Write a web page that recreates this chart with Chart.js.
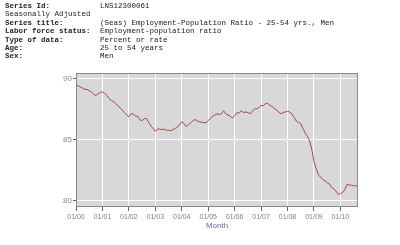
<!DOCTYPE html>
<html>
<head>
<meta charset="utf-8">
<script src="https://cdn.jsdelivr.net/npm/chart.js@4"></script>
<style>
    body { margin: 0; background: #fff; }
    #wrap { position: relative; width: 400px; height: 245px; overflow: hidden; }
    #info {
        position: absolute; left: 5px; top: 2px;
        font-family: "Liberation Mono", "DejaVu Sans Mono", monospace;
        font-size: 7.5px; line-height: 8.4px; color: #222;
    }
    #info div { white-space: nowrap; }
    #info b { display: inline-block; width: 95px; }
    #grafik { position: absolute; left: 0; top: 0; }
</style>
</head>
<body>
<div id="wrap">
    <canvas id="grafik" width="400" height="245"></canvas>
    <div id="info">
        <div><b>Series Id:</b>LNS12300061</div>
        <div>Seasonally Adjusted</div>
        <div><b>Series title:</b>(Seas) Employment-Population Ratio - 25-54 yrs., Men</div>
        <div><b>Labor force status:</b>Employment-population ratio</div>
        <div><b>Type of data:</b>Percent or rate</div>
        <div><b>Age:</b>25 to 54 years</div>
        <div><b>Sex:</b>Men</div>
    </div>
</div>
<script>
// ======================
// DATA (monthly, 01/2000 - 09/2010)
// ======================

const ratioValues = [
    89.5, 89.4, 89.3, 89.2, 89.1, 89.1, 89.0, 88.9, 88.7, 88.6, 88.75, 88.85,
    88.9, 88.8, 88.6, 88.35, 88.2, 88.1, 87.95, 87.75, 87.6, 87.4, 87.2, 87.0,
    86.85, 87.1, 87.1, 86.9, 86.9, 86.6, 86.55, 86.7, 86.72, 86.4, 86.1, 85.9,
    85.65, 85.85, 85.85, 85.8, 85.85, 85.75, 85.75, 85.7, 85.8, 85.9, 86.0, 86.2,
    86.45, 86.3, 86.05, 86.2, 86.35, 86.5, 86.65, 86.5, 86.45, 86.4, 86.4, 86.35,
    86.55, 86.7, 86.9, 87.0, 87.1, 87.05, 87.1, 87.35, 87.1, 87.0, 86.9, 86.75,
    86.95, 87.2, 87.15, 87.35, 87.2, 87.25, 87.2, 87.1, 87.3, 87.5, 87.5, 87.6,
    87.8, 87.75, 87.95, 87.95, 87.8, 87.7, 87.55, 87.4, 87.25, 87.1, 87.2, 87.25,
    87.3, 87.25, 87.1, 86.8, 86.5, 86.4, 86.3, 85.9, 85.55, 85.25, 84.9, 84.2,
    83.2, 82.6, 82.1, 81.9, 81.7, 81.6, 81.45, 81.35, 81.05, 80.95, 80.75, 80.5,
    80.55, 80.65, 80.85, 81.3, 81.25, 81.25, 81.2, 81.2, 81.15
];

const yearLabels = ["01/00","01/01","01/02","01/03","01/04","01/05","01/06","01/07","01/08","01/09","01/10"];
const yTicks = [80, 85, 90];

// ======================
// LATAR PLOT + BINGKAI
// ======================

const plotFrame = {
    id: "plotFrame",
    beforeDraw(chart) {
        const a = chart.chartArea;
        const c = chart.ctx;
        c.save();
        c.fillStyle = "#d8d8d8";
        c.fillRect(a.left, a.top, a.right - a.left, a.bottom - a.top);
        c.restore();
    },
    afterDraw(chart) {
        const a = chart.chartArea;
        const c = chart.ctx;
        c.save();
        c.strokeStyle = "#8a8a8a";
        c.lineWidth = 1;
        c.strokeRect(a.left + 0.5, a.top + 0.5, a.right - a.left - 1, a.bottom - a.top - 1);
        c.restore();
    }
};

// ======================
// GRAFIK
// ======================

new Chart(document.getElementById("grafik"), {
    type: "line",
    data: {
        datasets: [{
            data: ratioValues.map((v, i) => ({ x: i, y: v })),
            borderColor: "#a84646",
            borderWidth: 1,
            pointRadius: 0,
            tension: 0
        }]
    },
    options: {
        responsive: false,
        animation: false,
        layout: { padding: { top: 73, right: 42, left: 0, bottom: 0 } },
        plugins: { legend: { display: false }, tooltip: { enabled: false } },
        scales: {
            x: {
                type: "linear",
                min: 0,
                max: 128,
                afterBuildTicks: s => { s.ticks = yearLabels.map((l, i) => ({ value: i * 12 })); },
                afterFit: s => { s.height = 38; },
                ticks: {
                    callback: v => yearLabels[v / 12],
                    color: "#808080",
                    font: { family: "Liberation Sans", size: 7 },
                    padding: 2,
                    maxRotation: 0,
                    autoSkip: false
                },
                grid: { color: "#ffffff", tickColor: "#666", tickLength: 4 },
                border: { display: false },
                title: {
                    display: true,
                    text: "Month",
                    color: "#6a6aaa",
                    font: { family: "Liberation Sans", size: 8 },
                    padding: { top: 0, bottom: 14 }
                }
            },
            y: {
                min: 79.45,
                max: 90.45,
                afterBuildTicks: s => { s.ticks = yTicks.map(v => ({ value: v })); },
                afterFit: s => { s.width = 76; },
                ticks: {
                    color: "#8a8a8a",
                    font: { family: "Liberation Sans", size: 8 },
                    padding: 1
                },
                grid: { color: "#ffffff", tickColor: "#666", tickLength: 3 },
                border: { display: false }
            }
        }
    },
    plugins: [plotFrame]
});
</script>
</body>
</html>
